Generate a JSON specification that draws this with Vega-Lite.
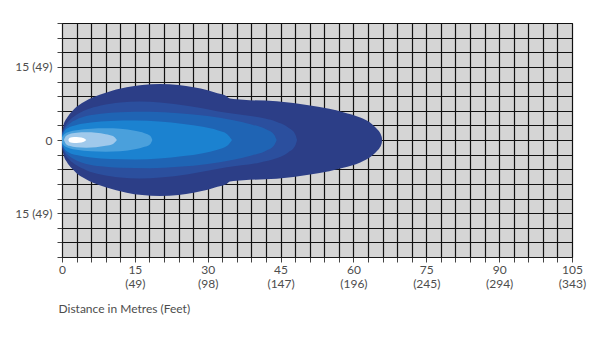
{
  "$schema": "https://vega.github.io/schema/vega-lite/v6.json",
  "width": 510,
  "height": 234,
  "autosize": {"type": "none"},
  "padding": {"left": 62, "top": 23, "right": 28, "bottom": 82},
  "background": "#ffffff",
  "config": {
    "view": {"fill": "#d5d5d5", "stroke": "#1a1a1a", "strokeWidth": 1},
    "font": "Lato"
  },
  "data": {"values": [
    {"s":"A","x":0,"hi":1.5,"lo":-1.5},{"s":"A","x":0.3,"hi":3,"lo":-3},{"s":"A","x":1,"hi":4.5,"lo":-4.5},{"s":"A","x":2,"hi":5.8,"lo":-5.8},{"s":"A","x":3,"hi":6.8,"lo":-6.8},{"s":"A","x":4.5,"hi":7.8,"lo":-7.8},{"s":"A","x":6.5,"hi":8.8,"lo":-8.8},{"s":"A","x":9,"hi":9.7,"lo":-9.7},{"s":"A","x":13.3,"hi":10.8,"lo":-10.8},{"s":"A","x":16.5,"hi":11.3,"lo":-11.3},{"s":"A","x":20.2,"hi":11.5,"lo":-11.5},{"s":"A","x":24,"hi":11.3,"lo":-11.3},{"s":"A","x":27.1,"hi":10.8,"lo":-10.8},{"s":"A","x":30,"hi":10.2,"lo":-10.2},{"s":"A","x":32,"hi":9.6,"lo":-9.6},{"s":"A","x":33.9,"hi":9.0,"lo":-9.0},{"s":"A","x":34.6,"hi":8.5,"lo":-8.5},{"s":"A","x":37.3,"hi":8.25,"lo":-8.25},{"s":"A","x":44.2,"hi":7.95,"lo":-7.95},{"s":"A","x":51.1,"hi":7.1,"lo":-7.1},{"s":"A","x":55,"hi":6.4,"lo":-6.4},{"s":"A","x":57.9,"hi":5.7,"lo":-5.7},{"s":"A","x":61.4,"hi":4.6,"lo":-4.6},{"s":"A","x":63.9,"hi":3.2,"lo":-3.2},{"s":"A","x":64.9,"hi":2.2,"lo":-2.2},{"s":"A","x":65.4,"hi":1.6,"lo":-1.6},{"s":"A","x":65.7,"hi":1.0,"lo":-1.0},{"s":"A","x":65.85,"hi":0.5,"lo":-0.5},{"s":"A","x":65.9,"hi":0,"lo":0},
    {"s":"B","x":0,"hi":1.2,"lo":-1.2},{"s":"B","x":0.5,"hi":2.6,"lo":-2.6},{"s":"B","x":1.5,"hi":4.0,"lo":-4.0},{"s":"B","x":3,"hi":5.2,"lo":-5.2},{"s":"B","x":5,"hi":6.2,"lo":-6.2},{"s":"B","x":8,"hi":7.1,"lo":-7.1},{"s":"B","x":12,"hi":7.7,"lo":-7.7},{"s":"B","x":16,"hi":7.9,"lo":-7.9},{"s":"B","x":20.2,"hi":7.7,"lo":-7.7},{"s":"B","x":26,"hi":7.0,"lo":-7.0},{"s":"B","x":33.9,"hi":5.6,"lo":-5.6},{"s":"B","x":40.8,"hi":4.6,"lo":-4.6},{"s":"B","x":44,"hi":3.8,"lo":-3.8},{"s":"B","x":46.5,"hi":2.6,"lo":-2.6},{"s":"B","x":48,"hi":1.2,"lo":-1.2},{"s":"B","x":48.4,"hi":0,"lo":0},
    {"s":"C","x":0,"hi":1.0,"lo":-1.0},{"s":"C","x":0.5,"hi":2.2,"lo":-2.2},{"s":"C","x":1.5,"hi":3.3,"lo":-3.3},{"s":"C","x":3,"hi":4.2,"lo":-4.2},{"s":"C","x":5,"hi":4.9,"lo":-4.9},{"s":"C","x":8,"hi":5.4,"lo":-5.4},{"s":"C","x":12,"hi":5.7,"lo":-5.7},{"s":"C","x":18,"hi":5.8,"lo":-5.8},{"s":"C","x":24,"hi":5.5,"lo":-5.5},{"s":"C","x":30,"hi":4.9,"lo":-4.9},{"s":"C","x":35,"hi":4.1,"lo":-4.1},{"s":"C","x":39,"hi":3.2,"lo":-3.2},{"s":"C","x":42,"hi":2.2,"lo":-2.2},{"s":"C","x":43.6,"hi":1.2,"lo":-1.2},{"s":"C","x":44.2,"hi":0,"lo":0},
    {"s":"D","x":0,"hi":0.8,"lo":-0.8},{"s":"D","x":0.5,"hi":1.8,"lo":-1.8},{"s":"D","x":1.5,"hi":2.6,"lo":-2.6},{"s":"D","x":3,"hi":3.1,"lo":-3.1},{"s":"D","x":6,"hi":3.6,"lo":-3.6},{"s":"D","x":10,"hi":3.9,"lo":-3.9},{"s":"D","x":15,"hi":4.0,"lo":-4.0},{"s":"D","x":20,"hi":3.8,"lo":-3.8},{"s":"D","x":25,"hi":3.3,"lo":-3.3},{"s":"D","x":29,"hi":2.7,"lo":-2.7},{"s":"D","x":32,"hi":2.0,"lo":-2.0},{"s":"D","x":34,"hi":1.2,"lo":-1.2},{"s":"D","x":35,"hi":0,"lo":0},
    {"s":"E","x":0,"hi":0.5,"lo":-0.5},{"s":"E","x":0.5,"hi":1.2,"lo":-1.2},{"s":"E","x":1.5,"hi":1.7,"lo":-1.7},{"s":"E","x":3,"hi":2.0,"lo":-2.0},{"s":"E","x":6,"hi":2.3,"lo":-2.3},{"s":"E","x":9,"hi":2.4,"lo":-2.4},{"s":"E","x":12,"hi":2.3,"lo":-2.3},{"s":"E","x":15,"hi":1.9,"lo":-1.9},{"s":"E","x":17,"hi":1.4,"lo":-1.4},{"s":"E","x":18.2,"hi":0.8,"lo":-0.8},{"s":"E","x":18.6,"hi":0,"lo":0},
    {"s":"F","x":0.4,"hi":0,"lo":0},{"s":"F","x":0.8,"hi":0.8,"lo":-0.8},{"s":"F","x":1.5,"hi":1.2,"lo":-1.2},{"s":"F","x":3,"hi":1.5,"lo":-1.5},{"s":"F","x":5,"hi":1.6,"lo":-1.6},{"s":"F","x":7,"hi":1.5,"lo":-1.5},{"s":"F","x":9,"hi":1.2,"lo":-1.2},{"s":"F","x":10.5,"hi":0.8,"lo":-0.8},{"s":"F","x":11.3,"hi":0,"lo":0},
    {"s":"G","x":1.3,"hi":0,"lo":0},{"s":"G","x":1.6,"hi":0.45,"lo":-0.45},{"s":"G","x":2.5,"hi":0.6,"lo":-0.6},{"s":"G","x":3.5,"hi":0.55,"lo":-0.55},{"s":"G","x":4.5,"hi":0.35,"lo":-0.35},{"s":"G","x":5,"hi":0,"lo":0}
  ]},
  "encoding": {
    "x": {
      "field": "x", "type": "quantitative",
      "scale": {"domain": [0, 105], "nice": false, "zero": false},
      "axis": {
        "values": [0,3,6,9,12,15,18,21,24,27,30,33,36,39,42,45,48,51,54,57,60,63,66,69,72,75,78,81,84,87,90,93,96,99,102,105],
        "labelExpr": "datum.value % 15 != 0 ? '' : (datum.value == 0 ? '0' : [datum.label, '(' + round(datum.value * 3.27) + ')'])",
        "labelOverlap": false, "labelFlush": false, "labelBound": false,
        "labelFont": "Lato", "labelFontSize": 12, "labelColor": "#4d4d4d", "labelPadding": 2, "labelLineHeight": 14,
        "tickSize": 5, "tickColor": "#444444", "tickWidth": 1,
        "domainColor": "#1a1a1a", "domainWidth": 1,
        "grid": true, "gridColor": "#111111", "gridWidth": 1.2, "gridOpacity": 1,
        "title": "Distance in Metres (Feet)", "titleFont": "Lato", "titleFontSize": 12, "titleFontWeight": "normal", "titleColor": "#4d4d4d",
        "titleX": -4, "titleY": 55, "titleAlign": "left", "titleAnchor": null, "titleBaseline": "alphabetic"
      }
    },
    "y": {
      "field": "hi", "type": "quantitative",
      "scale": {"domain": [-24, 24], "nice": false, "zero": false},
      "axis": {
        "values": [-24,-21,-18,-15,-12,-9,-6,-3,0,3,6,9,12,15,18,21,24],
        "labelExpr": "datum.value == 0 ? '0' : (abs(datum.value) == 15 ? '15 (' + round(abs(datum.value) * 3.27) + ')' : '')",
        "labelOverlap": false, "labelFlush": false, "labelBound": false,
        "labelFont": "Lato", "labelFontSize": 12, "labelColor": "#4d4d4d", "labelPadding": 5,
        "tickSize": 5, "tickColor": "#444444", "tickWidth": 1,
        "domainColor": "#1a1a1a", "domainWidth": 1,
        "grid": true, "gridColor": "#111111", "gridWidth": 1.2, "gridOpacity": 1,
        "title": null
      }
    },
    "y2": {"field": "lo"}
  },
  "layer": [
    {"transform": [{"filter": "datum.s == 'A'"}], "mark": {"type": "area", "color": "#2c3e87", "interpolate": "monotone"}},
    {"transform": [{"filter": "datum.s == 'B'"}], "mark": {"type": "area", "color": "#2b4f9e", "interpolate": "monotone"}},
    {"transform": [{"filter": "datum.s == 'C'"}], "mark": {"type": "area", "color": "#1f64b4", "interpolate": "monotone"}},
    {"transform": [{"filter": "datum.s == 'D'"}], "mark": {"type": "area", "color": "#1b82d0", "interpolate": "monotone"}},
    {"transform": [{"filter": "datum.s == 'E'"}], "mark": {"type": "area", "color": "#4aa0dc", "interpolate": "monotone"}},
    {"transform": [{"filter": "datum.s == 'F'"}], "mark": {"type": "area", "color": "#a0c9eb", "interpolate": "monotone"}},
    {"transform": [{"filter": "datum.s == 'G'"}], "mark": {"type": "area", "color": "#ffffff", "interpolate": "monotone"}}
  ]
}
